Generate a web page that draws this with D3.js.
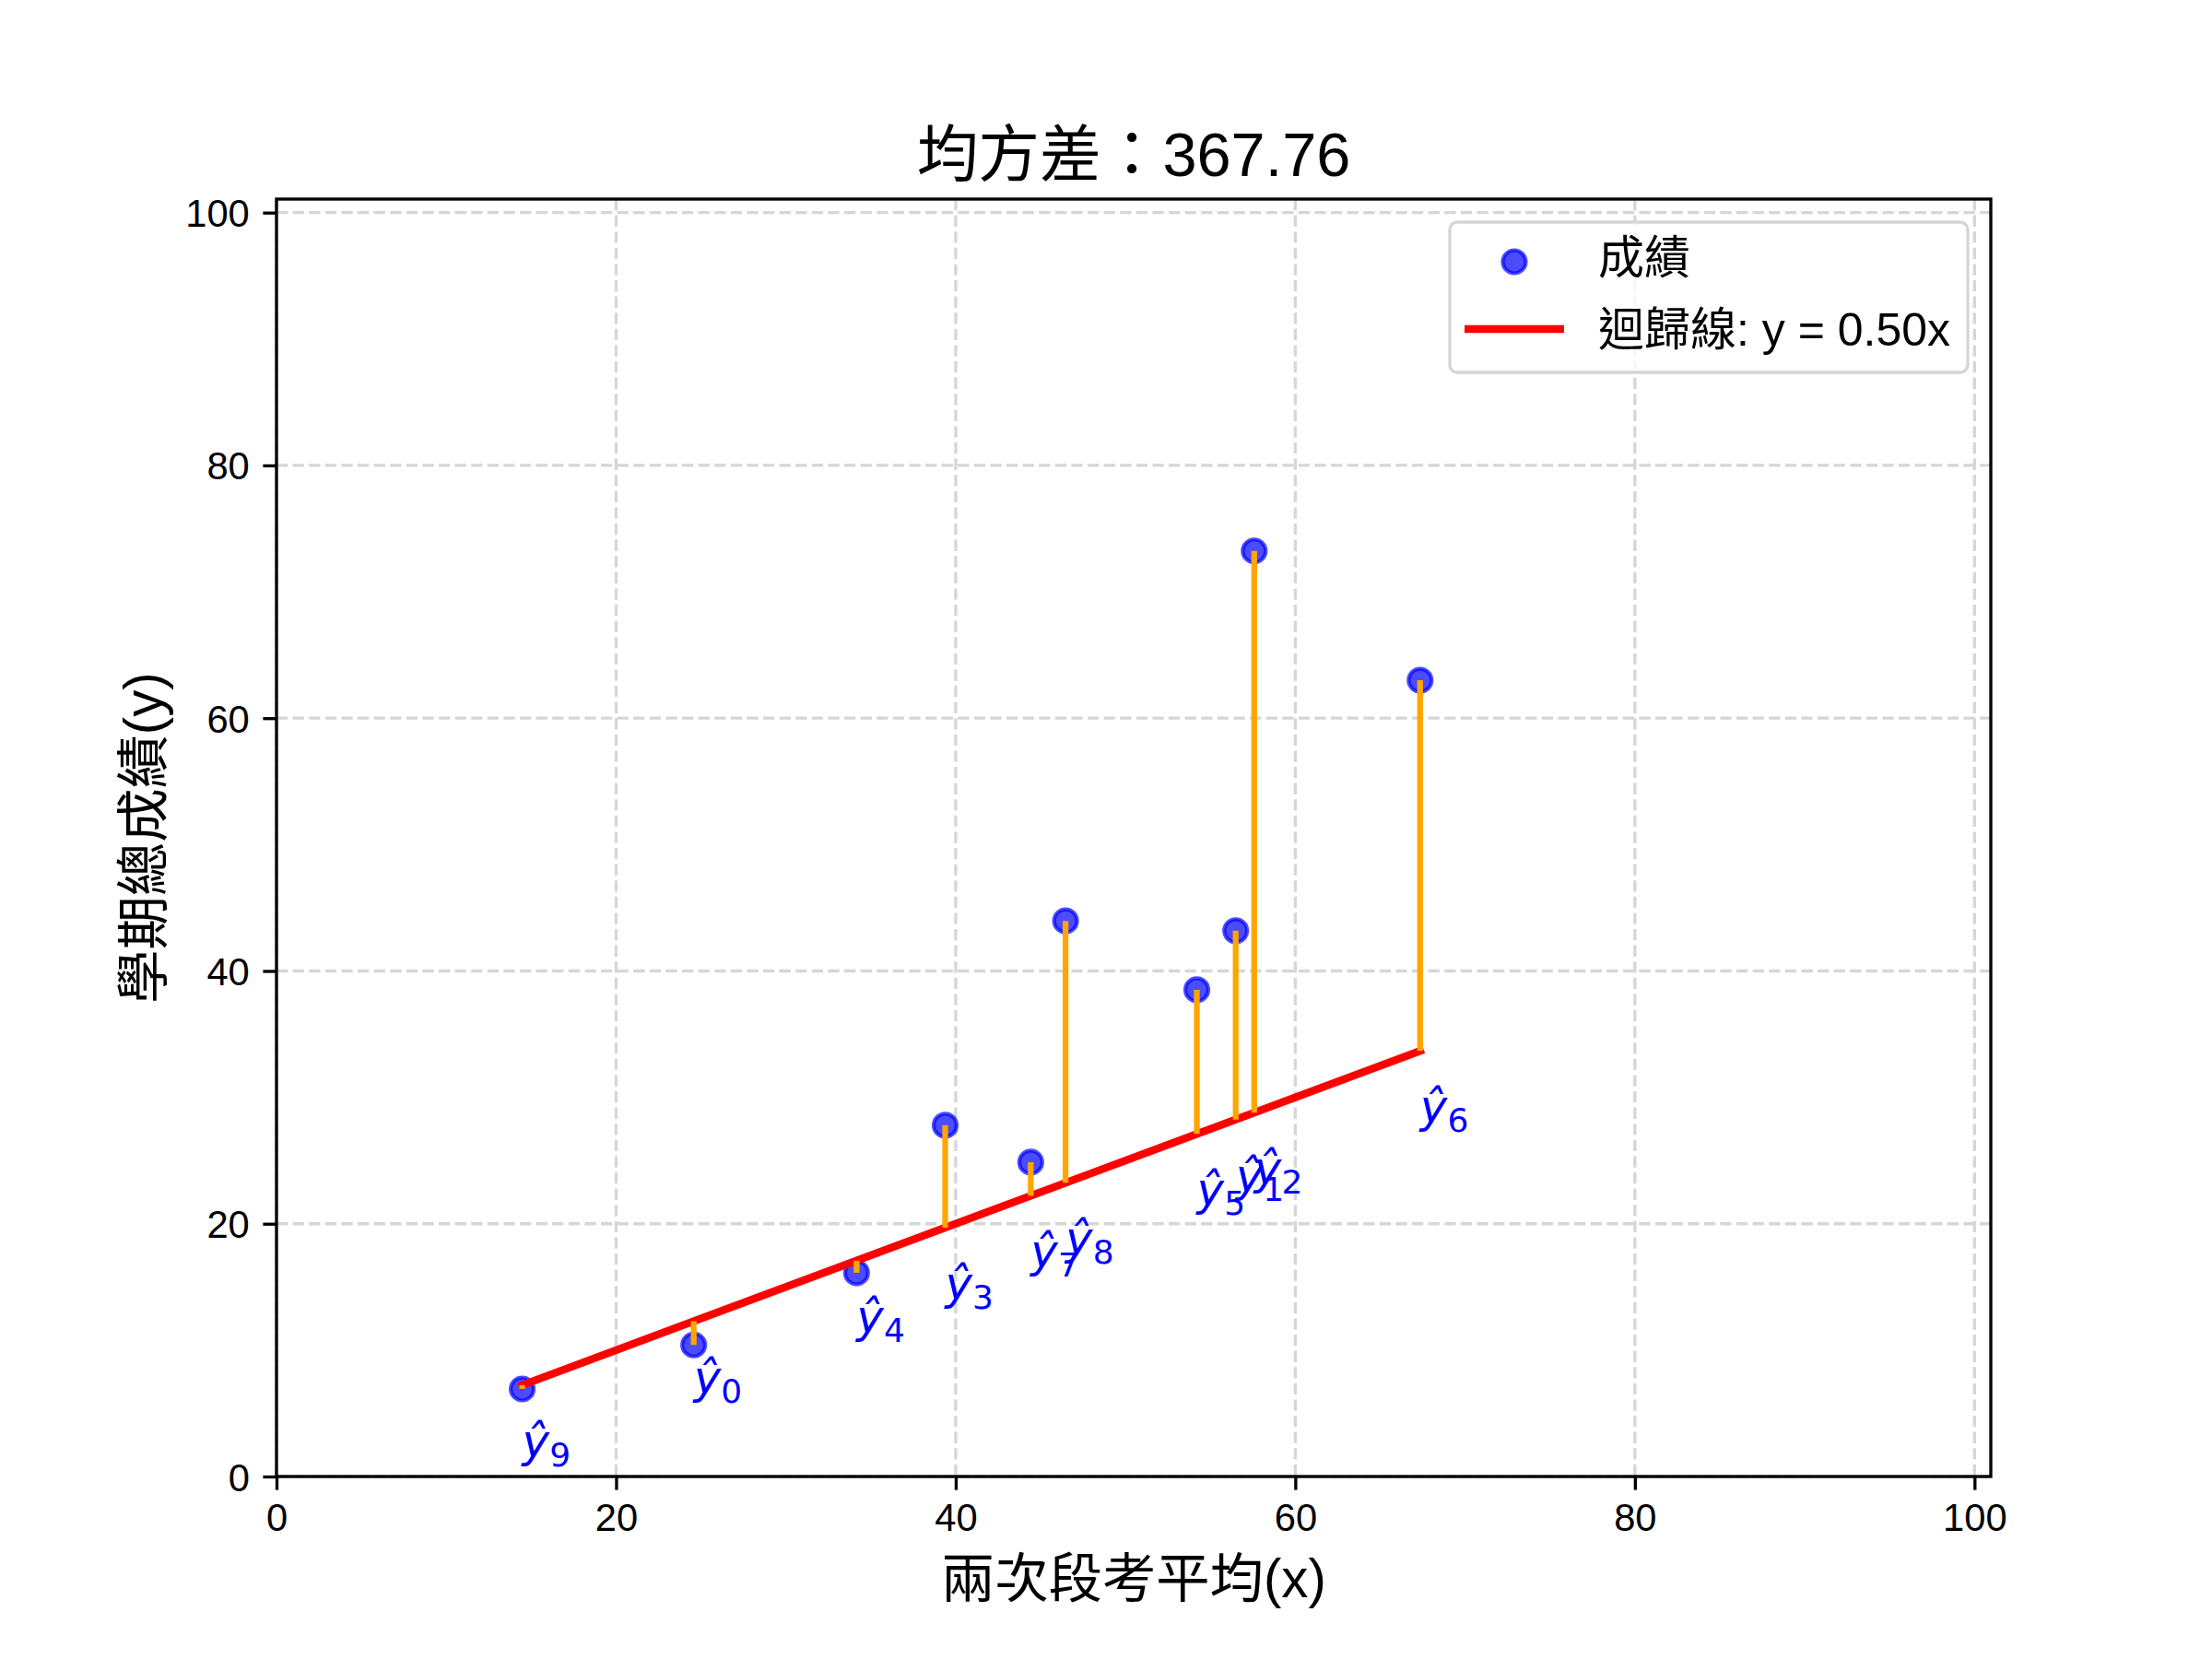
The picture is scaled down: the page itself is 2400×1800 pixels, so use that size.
<!DOCTYPE html>
<html>
<head>
<meta charset="utf-8">
<script src="https://cdn.jsdelivr.net/npm/d3@7"></script>
<style>
  html, body { margin: 0; padding: 0; background: #ffffff; }
  svg { display: block; }
</style>
</head>
<body>
<script>
// ---- data ----
const pointIndex = [0, 1, 2, 3, 4, 5, 6, 7, 8, 9];
const xValues = [24.57, 56.49, 57.58, 39.38, 34.16, 54.20, 67.35, 44.42, 46.47, 14.47];
const yValues = [10.41, 43.18, 73.23, 27.79, 16.12, 38.51, 63.00, 24.87, 43.96, 6.93];
const slope = 0.50;
const xTicks = [0, 20, 40, 60, 80, 100];
const yTicks = [0, 20, 40, 60, 80, 100];
const xDomain = [0, 100.96];
const yDomain = [0, 101.07];
const titleText = "均方差：367.76";
const xLabelText = "兩次段考平均(x)";
const yLabelText = "學期總成績(y)";
const legendScatter = "成績";
const legendLine = "迴歸線: y = 0.50x";

(function () {
// ---- layout ----
const W = 2400, H = 1800;
const pL = 300, pR = 2160, pT = 216, pB = 1602;
const LATIN = "'Liberation Sans', Arial, 'Noto Sans CJK TC', sans-serif";

const svg = d3.select("body").append("svg").attr("width", W).attr("height", H);
svg.append("rect").attr("width", W).attr("height", H).attr("fill", "#fff");

const x = d3.scaleLinear().domain(xDomain).range([pL, pR]);
const y = d3.scaleLinear().domain(yDomain).range([pB, pT]);

const data = pointIndex.map((i) => ({ i, x: xValues[i], y: yValues[i], p: slope * xValues[i] }));

// grid
const grid = svg.append("g");
grid.selectAll(".gx").data(xTicks).enter().append("line")
  .attr("x1", d => x(d)).attr("x2", d => x(d)).attr("y1", pT).attr("y2", pB)
  .attr("stroke", "#d6d6d6").attr("stroke-width", 3.33).attr("stroke-dasharray", "12.3,5.3");
grid.selectAll(".gy").data(yTicks).enter().append("line")
  .attr("y1", d => y(d)).attr("y2", d => y(d)).attr("x1", pL).attr("x2", pR)
  .attr("stroke", "#d6d6d6").attr("stroke-width", 3.33).attr("stroke-dasharray", "12.3,5.3");

// scatter
svg.append("g").selectAll("circle").data(data).enter().append("circle")
  .attr("cx", d => x(d.x)).attr("cy", d => y(d.y)).attr("r", 12.5)
  .attr("fill", "rgba(0,0,255,0.7)").attr("stroke", "rgba(0,0,255,0.7)").attr("stroke-width", 4.17);

// regression line
const xMin = d3.min(xValues), xMax = d3.max(xValues);
svg.append("line")
  .attr("x1", x(xMin)).attr("y1", y(slope * xMin))
  .attr("x2", x(xMax)).attr("y2", y(slope * xMax))
  .attr("stroke", "#ff0000").attr("stroke-width", 8.33).attr("stroke-linecap", "square");

// residual lines
svg.append("g").selectAll("line").data(data).enter().append("line")
  .attr("x1", d => x(d.x)).attr("x2", d => x(d.x))
  .attr("y1", d => y(d.y)).attr("y2", d => y(d.p))
  .attr("stroke", "#ffa500").attr("stroke-width", 6.25);

// labels y-hat_i
const lab = svg.append("g").selectAll("text").data(data).enter().append("text")
  .attr("x", d => x(d.x)).attr("y", d => y(d.p) + 78)
  .attr("fill", "#0000ff").attr("font-family", "'DejaVu Sans'").attr("font-size", 50);
lab.append("tspan").attr("font-style", "italic").text("ŷ");
lab.append("tspan").attr("font-size", 36).attr("dy", 10).text(d => d.i);

// axes ticks
const xAxis = svg.append("g").attr("transform", `translate(0,${pB})`)
  .call(d3.axisBottom(x).tickValues(xTicks).tickSize(14.6).tickPadding(14.6).tickFormat(d3.format("d")));
const yAxis = svg.append("g").attr("transform", `translate(${pL},0)`)
  .call(d3.axisLeft(y).tickValues(yTicks).tickSize(14.6).tickPadding(14.6).tickFormat(d3.format("d")));
[xAxis, yAxis].forEach(a => {
  a.select(".domain").remove();
  a.selectAll(".tick line").attr("stroke", "#000").attr("stroke-width", 3.33);
  a.selectAll(".tick text").attr("font-family", LATIN).attr("font-size", 41.7).attr("fill", "#000");
});
xAxis.selectAll(".tick text").attr("dy", null).attr("y", 59.2);
yAxis.selectAll(".tick text").attr("dy", "0.36em");

// spines
svg.append("rect").attr("x", pL).attr("y", pT).attr("width", pR - pL).attr("height", pB - pT)
  .attr("fill", "none").attr("stroke", "#000").attr("stroke-width", 3.33);

// title & labels
svg.append("text").attr("x", (pL + pR) / 2).attr("y", 191).attr("text-anchor", "middle")
  .attr("font-family", LATIN).attr("font-size", 66.7).attr("fill", "#000").text(titleText);
svg.append("text").attr("x", (pL + pR) / 2).attr("y", 1733).attr("text-anchor", "middle")
  .attr("font-family", LATIN).attr("font-size", 58.3).attr("fill", "#000").text(xLabelText);
svg.append("text").attr("transform", `translate(176,${(pT + pB) / 2}) rotate(-90)`)
  .attr("text-anchor", "middle")
  .attr("font-family", LATIN).attr("font-size", 58.3).attr("fill", "#000").text(yLabelText);

// legend
const lg = svg.append("g");
lg.append("rect").attr("x", 1573).attr("y", 241).attr("width", 562).attr("height", 163)
  .attr("rx", 8).attr("fill", "rgba(255,255,255,0.8)").attr("stroke", "#d6d6d6").attr("stroke-width", 3.33);
lg.append("circle").attr("cx", 1643).attr("cy", 284).attr("r", 12.5)
  .attr("fill", "rgba(0,0,255,0.7)").attr("stroke", "rgba(0,0,255,0.7)").attr("stroke-width", 4.17);
lg.append("line").attr("x1", 1589).attr("x2", 1697).attr("y1", 357).attr("y2", 357)
  .attr("stroke", "#ff0000").attr("stroke-width", 8.33);
lg.append("text").attr("x", 1734).attr("y", 297).attr("font-family", LATIN).attr("font-size", 50)
  .attr("fill", "#000").text(legendScatter);
lg.append("text").attr("x", 1734).attr("y", 375).attr("font-family", LATIN).attr("font-size", 50)
  .attr("fill", "#000").text(legendLine);
})();
</script>
</body>
</html>
